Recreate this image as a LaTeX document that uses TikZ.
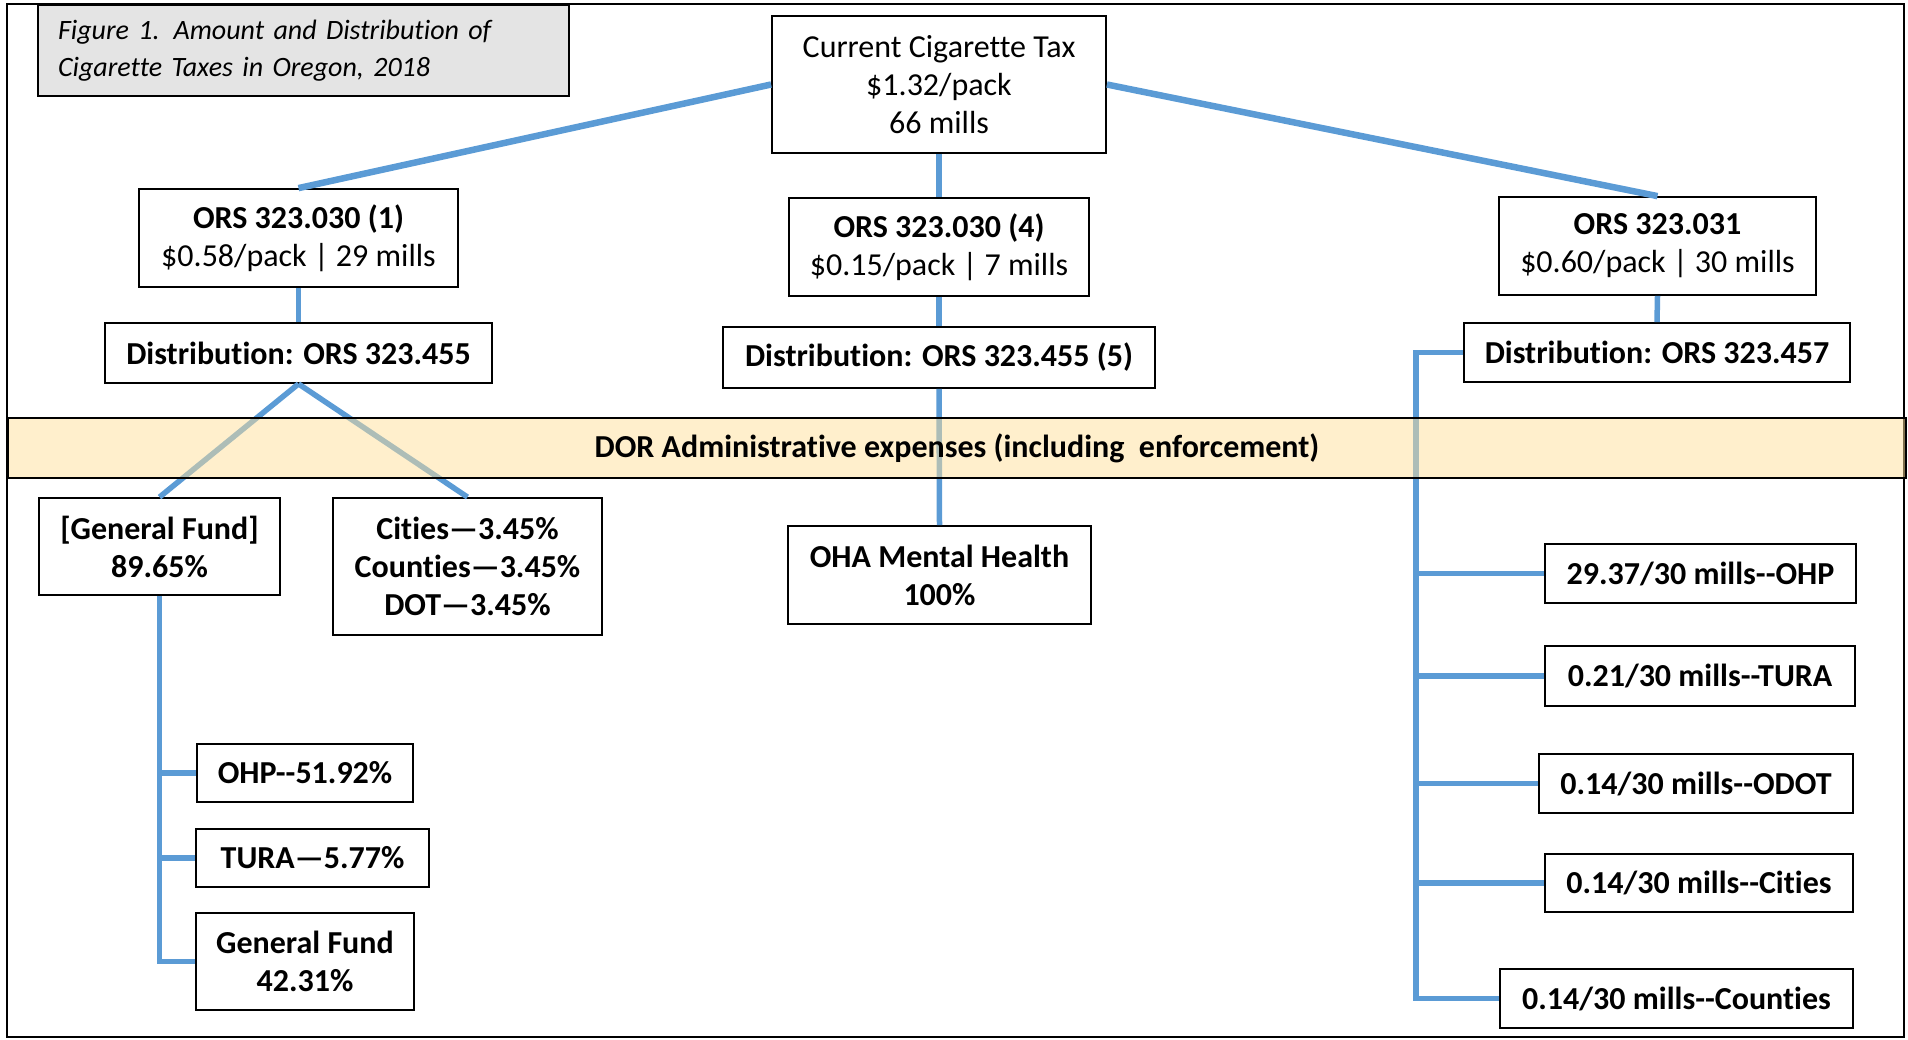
\documentclass[tikz,border=0pt]{standalone}
\usepackage{fontspec}
\setmainfont{Carlito}[Ligatures={TeXOff,NoCommon}]
\definecolor{linkblue}{HTML}{5B9BD5}
\definecolor{bandyellow}{HTML}{FFE09A}
\definecolor{titlegray}{HTML}{E4E4E4}
\newcommand\boxfont{\fontsize{32}{38}\selectfont}
\newcommand\titlefont{\fontsize{28}{37}\selectfont}
\tikzset{
  box/.style={draw=black,line width=1.8pt,fill=white,align=center,inner sep=0pt,font=\boxfont\bfseries},
  link/.style={draw=linkblue,line width=5.5pt},
  toplink/.style={link,line width=6.5pt},
}
\begin{document}
\begin{tikzpicture}[x=1pt,y=-1pt]
            \useasboundingbox (0,0) rectangle (1908,1040);
            \draw [line width=1.8pt](7,4) rectangle (1904,1037);
            \node [box,fill=titlegray,font=\titlefont\itshape,align=left,text width=491pt,inner xsep=20pt,minimum height=91pt] (title) at (303.5,50.5) {Figure 1. Amount and Distribution of\\Cigarette Taxes in Oregon, 2018};
            \node [box,font=\boxfont,minimum width=334pt,minimum height=137pt] (tax) at (939,84.5) {Current Cigarette Tax\\\$1.32/pack\\66 mills};
            \node [box,font=\boxfont,minimum width=319pt,minimum height=98pt] (ors1) at (298.5,238) {{\bfseries ORS 323.030 (1)}\\\$0.58/pack | 29 mills};
            \node [box,font=\boxfont,minimum width=300pt,minimum height=98pt] (ors2) at (939,247) {{\bfseries ORS 323.030 (4)}\\\$0.15/pack | 7 mills};
            \node [box,font=\boxfont,minimum width=317pt,minimum height=98pt] (ors3) at (1657.5,246) {{\bfseries ORS 323.031}\\\$0.60/pack | 30 mills};
            \node [box,minimum width=387pt,minimum height=60pt] (dist1) at (298.5,353) {Distribution: ORS 323.455};
            \node [box,minimum width=432pt,minimum height=61pt] (dist2) at (939,357.5) {Distribution: ORS 323.455 (5)};
            \node [box,minimum width=386pt,minimum height=59pt] (dist3) at (1657,352.5) {Distribution: ORS 323.457};
            \node [box,minimum width=241pt,minimum height=97pt] (genfund) at (159.5,546.5) {[General Fund]\\89.65\%};
            \node [box,minimum width=269pt,minimum height=137pt] (cities) at (467.5,566.5) {Cities—3.45\%\\Counties—3.45\%\\DOT—3.45\%};
            \node [box,minimum width=303pt,minimum height=98pt] (oha) at (939.5,575) {OHA Mental Health\\100\%};
            \node [box,minimum width=216pt,minimum height=58pt] (ohp) at (305,773) {OHP--51.92\%};
            \node [box,minimum width=233pt,minimum height=58pt] (tura) at (312.5,858) {TURA—5.77\%};
            \node [box,minimum width=218pt,minimum height=97pt] (gf) at (305,961.5) {General Fund\\42.31\%};
            \node [box,minimum width=311pt,minimum height=59pt] (ohpm) at (1700.5,573.5) {29.37/30 mills--OHP};
            \node [box,minimum width=310pt,minimum height=60pt] (turam) at (1700,676) {0.21/30 mills--TURA};
            \node [box,minimum width=314pt,minimum height=59pt] (odotm) at (1696,783.5) {0.14/30 mills--ODOT};
            \node [box,minimum width=308pt,minimum height=58pt] (citiesm) at (1699,883) {0.14/30 mills--Cities};
            \node [box,minimum width=353pt,minimum height=59pt] (countiesm) at (1676.5,998.5) {0.14/30 mills--Counties};
            \coordinate (rbus) at (1416,998.5);
            \draw [toplink](tax.west) -- (ors1.north);
            \draw [toplink](tax.east) -- (ors3.north);
            \draw [link](tax.south) -- (ors2.north);
            \draw [link](ors1.south) -- (dist1.north);
            \draw [link](ors2.south) -- (dist2.north);
            \draw [link](ors3.south) -- (dist3.north);
            \draw [link](dist1.south) -- (genfund.north);
            \draw [link](dist1.south) -- (cities.north);
            \draw [link](dist2.south) -- (oha.north);
            \draw [link](genfund.south) |- (gf.west);
            \foreach \n in {ohp,tura}
                \draw [link](genfund.south |- \n.west) -- (\n.west);
            \draw [link](dist3.west) -| (rbus) -- (countiesm.west);
            \foreach \n in {ohpm,turam,odotm,citiesm}
                \draw [link](rbus |- \n.west) -- (\n.west);
            \node [box,fill=bandyellow,fill opacity=0.5,text opacity=1,minimum width=1898pt,minimum height=60pt] (dor) at (957,448) {DOR Administrative expenses (including~ enforcement)};
        \end{tikzpicture}
\end{document}
